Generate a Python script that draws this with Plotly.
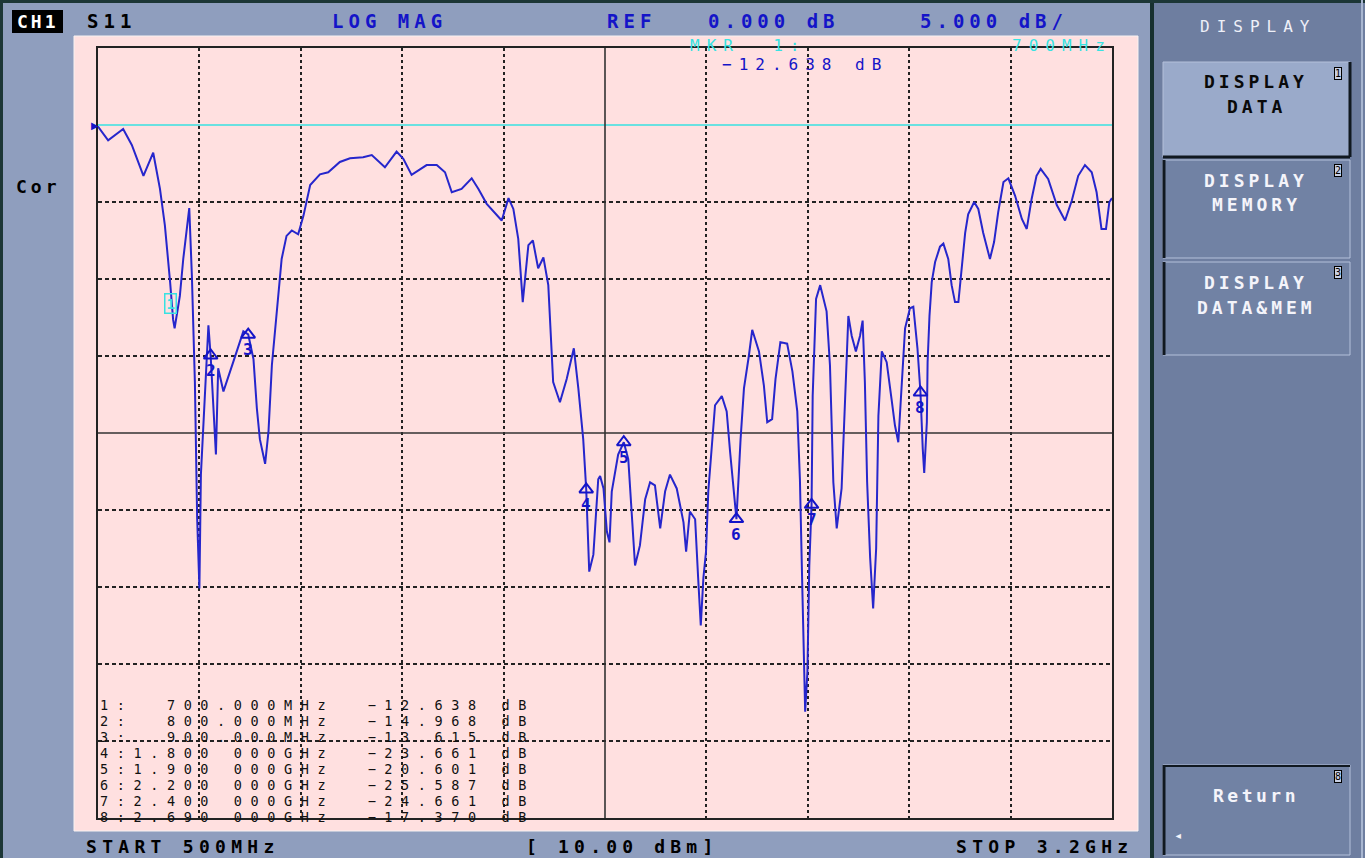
import plotly.graph_objects as go

W, H = 1365, 858

freq_mhz = [
    500, 527, 567, 590, 621, 647, 665, 678, 692, 700,
    704, 718, 727, 743, 750, 758, 764, 770, 774, 785,
    794, 800, 805, 809, 814, 820, 834, 860, 887, 900,
    914, 923, 931, 945, 954, 963, 976, 989, 1002, 1016,
    1033, 1047, 1065, 1091, 1113, 1144, 1171, 1206, 1229, 1264,
    1295, 1313, 1335, 1375, 1402, 1424, 1442, 1468, 1495, 1513,
    1535, 1575, 1593, 1606, 1619, 1631, 1646, 1658, 1672, 1686,
    1699, 1704, 1712, 1730, 1748, 1767, 1779, 1792, 1800, 1808,
    1819, 1832, 1837, 1846, 1855, 1862, 1868, 1885, 1900, 1912,
    1921, 1930, 1943, 1957, 1970, 1983, 1997, 2010, 2023, 2041,
    2059, 2066, 2076, 2090, 2098, 2105, 2112, 2119, 2125, 2134,
    2143, 2161, 2174, 2183, 2200, 2211, 2220, 2233, 2242, 2260,
    2273, 2282, 2295, 2304, 2317, 2335, 2349, 2362, 2369, 2376,
    2383, 2389, 2394, 2400, 2403, 2412, 2423, 2440, 2449, 2458,
    2467, 2480, 2489, 2498, 2507, 2518, 2529, 2536, 2542, 2548,
    2556, 2564, 2572, 2578, 2587, 2600, 2613, 2622, 2631, 2640,
    2649, 2662, 2671, 2682, 2690, 2696, 2700, 2707, 2709, 2714,
    2720, 2729, 2742, 2751, 2764, 2773, 2782, 2791, 2800, 2809,
    2817, 2833, 2844, 2857, 2875, 2886, 2897, 2911, 2924, 2942,
    2960, 2973, 2986, 2999, 3010, 3030, 3053, 3075, 3093, 3110,
    3128, 3146, 3159, 3172, 3184, 3193, 3200,
]
s11_db = [
    -0.1, -1.0, -0.26, -1.3, -3.3, -1.8, -4.15, -6.5, -10.2, -12.64,
    -13.2, -11.1, -8.7, -5.4, -9.8, -16.7, -25.5, -30.1, -22.7, -17.8,
    -13.0, -15.0, -17.3, -19.9, -21.4, -15.8, -17.3, -15.4, -13.4, -13.6,
    -15.2, -18.4, -20.4, -22.0, -19.9, -15.6, -11.9, -8.7, -7.2, -6.85,
    -7.1, -5.9, -3.9, -3.2, -3.07, -2.4, -2.16, -2.1, -1.95, -2.75,
    -1.73, -2.2, -3.24, -2.6, -2.6, -3.07, -4.37, -4.15, -3.46, -4.15,
    -5.12, -6.2, -4.75, -5.45, -7.4, -11.5, -7.8, -7.5, -9.3, -8.6,
    -10.4, -13.0, -16.7, -18.0, -16.5, -14.5, -17.1, -20.4, -23.66, -29.0,
    -27.9, -23.0, -22.8, -23.6, -26.4, -27.1, -23.8, -21.4, -20.6, -21.7,
    -25.1, -28.6, -27.3, -24.3, -23.2, -23.4, -26.2, -23.8, -22.7, -23.6,
    -25.8, -27.7, -25.1, -25.6, -29.4, -32.5, -29.4, -27.7, -23.8, -20.8,
    -18.2, -17.6, -18.6, -21.2, -25.59, -20.4, -17.1, -15.0, -13.3, -14.7,
    -16.9, -19.3, -19.1, -16.5, -14.1, -14.2, -16.0, -18.6, -23.0, -30.7,
    -38.1, -35.5, -28.6, -24.66, -17.6, -11.3, -10.4, -12.1, -15.6, -23.2,
    -26.2, -23.6, -17.6, -12.4, -13.7, -14.7, -13.7, -12.7, -16.7, -23.2,
    -28.1, -31.4, -27.5, -18.9, -14.7, -15.4, -17.8, -19.5, -20.6, -17.1,
    -13.2, -11.9, -11.8, -14.5, -17.37, -21.0, -22.6, -19.3, -15.4, -12.4,
    -10.2, -8.9, -7.9, -7.7, -8.7, -10.4, -11.5, -11.5, -9.1, -7.0,
    -5.8, -5.0, -5.45, -7.0, -8.7, -7.6, -5.66, -3.7, -3.46, -4.6,
    -6.1, -6.75, -4.8, -3.3, -2.85, -3.5, -5.2, -6.2, -4.9, -3.3,
    -2.6, -3.07, -4.37, -6.75, -6.75, -5.0, -4.75,
]

marker_ids = ["1", "2", "3", "4", "5", "6", "7", "8"]
marker_freq_mhz = [700, 800, 900, 1800, 1900, 2200, 2400, 2690]
marker_db = [-12.638, -14.968, -13.615, -23.661, -20.601, -25.587, -24.661, -17.370]
marker_freq_labels = ["700.000MHz", "800.000MHz", "900.000MHz", "1.800 000GHz",
                      "1.900 000GHz", "2.200 000GHz", "2.400 000GHz", "2.690 000GHz"]

start_mhz, stop_mhz = 500, 3200
ref_db, scale_db = 0.0, 5.0
y_bottom, y_top = -45, 5

header_texts = ["S11", "LOG MAG", "REF", "0.000 dB", "5.000 dB/"]
softkeys = [("DISPLAY", "DATA"), ("DISPLAY", "MEMORY"), ("DISPLAY", "DATA&MEM")]

MONO = "DejaVu Sans Mono"
BLUE = "#1414C8"
TRACE = "#2626CC"
CYAN = "#38E2E2"

shapes, anns = [], []


def px(x):
    return x / W


def py(y):
    return 1 - y / H


def R(x0, y0, x1, y1, fill, lc=None, lw=0, layer="below"):
    shapes.append(dict(type="rect", xref="paper", yref="paper",
                       x0=px(x0), x1=px(x1), y0=py(y1), y1=py(y0),
                       fillcolor=fill, line=dict(color=lc or fill, width=lw),
                       layer=layer))


def L(x0, y0, x1, y1, color, w, layer="below"):
    shapes.append(dict(type="line", xref="paper", yref="paper",
                       x0=px(x0), x1=px(x1), y0=py(y0), y1=py(y1),
                       line=dict(color=color, width=w), layer=layer))


def T(x, y, s, size=17, color="black", bold=False, ls=0, xanchor="left", **kw):
    s = s.replace(" ", "\u00a0")
    if ls:
        s = f'<span style="letter-spacing:{ls}px">{s}</span>'
    d = dict(x=px(x), y=py(y), xref="paper", yref="paper", text=s, showarrow=False,
             xanchor=xanchor, yanchor="middle",
             font=dict(family=MONO, size=size, color=color,
                       weight="bold" if bold else "normal"))
    d.update(kw)
    anns.append(d)


# ---------------- instrument frame ----------------
R(1152, 0, W, H, "#6E7EA0")
L(1152, 0, 1152, H, "#17302F", 4)
L(0, 1.5, W, 1.5, "#1C3636", 3)
L(1.5, 0, 1.5, H, "#1C3636", 3)
L(1362, 0, 1362, H, "#A8B6D0", 2)
R(74, 36, 1138, 831, "#FFE0E0", "#F8F2F2", 1)

# header
R(12, 10, 63, 33, "#000000")
T(37.5, 21, "CH1", size=18, color="white", bold=True, ls=3, xanchor="center")
xs_head = [85, 330, 605, 706, 918]
for i, s in enumerate(header_texts):
    T(xs_head[i], 21, s, size=19, color="black" if i == 0 else BLUE, bold=True, ls=5)

T(14, 186, "Cor", size=18, bold=True, ls=4)

# marker readout at top
T(688, 45, "MKR  1:", size=16, color=CYAN, ls=7)
T(1010, 45, f"{marker_freq_mhz[0]}MHz", size=16, color=CYAN, ls=7)
T(720, 64, f"\u2212{abs(marker_db[0]):.3f} dB", size=16, color=BLUE, ls=7)

# marker table
for i, mid in enumerate(marker_ids):
    line = f"{mid}:{marker_freq_labels[i].rjust(12)}  \u2212{abs(marker_db[i]):.3f} dB"
    T(99, 705 + i * 16, line, size=13.5, color="#111111", ls=8.6,
      height=14, borderpad=0)

# bottom bar
T(84, 846, f"START {start_mhz}MHz", size=18, bold=True, ls=5.3)
T(524, 846, "[ 10.00 dBm]", size=18, bold=True, ls=5.2)
T(954, 846, f"STOP {stop_mhz / 1000:.1f}GHz", size=18, bold=True, ls=5.3)

# softkey panel
T(1258, 27, "DISPLAY", size=16, color="#EEF0F8", ls=7, xanchor="center")
btn_y = [(62, 157), (160, 258), (262, 355)]
for k, ((a, b), (y0, y1)) in enumerate(zip(softkeys, btn_y)):
    sel = k == 0
    R(1163, y0, 1350, y1, "#9AAACA" if sel else "#7182A4", "#B4C0DA", 1)
    if sel:
        L(1350, y0, 1350, y1, "#101820", 3)
        L(1163, y1, 1350, y1, "#101820", 3)
    else:
        L(1164, y0, 1164, y1, "#101820", 3)
    col = "#0A0A0A" if sel else "#F4F4FA"
    T(1256, y0 + 20, a, size=18, color=col, bold=True, ls=4, xanchor="center")
    T(1256, y0 + 45, b, size=18, color=col, bold=True, ls=4, xanchor="center")
    T(1338, y0 + 11, str(k + 1), size=10, color="black", xanchor="center",
      bgcolor="#C8D0E4", bordercolor="black", borderwidth=1, borderpad=0)
R(1163, 765, 1350, 855, "#7182A4", "#B4C0DA", 1)
L(1164, 765, 1164, 855, "#101820", 3)
L(1163, 766, 1350, 766, "#101820", 2)
T(1256, 795, "Return", size=18, color="#F4F4FA", bold=True, ls=3.5, xanchor="center")
T(1338, 776, "8", size=10, color="black", xanchor="center",
  bgcolor="#C8D0E4", bordercolor="black", borderwidth=1, borderpad=0)
T(1178, 835, "\u25c2", size=14, color="#F4F4FA", xanchor="center")

# ---------------- plot ----------------
fig = go.Figure()

fig.add_trace(go.Scatter(x=freq_mhz, y=s11_db, mode="lines",
                         line=dict(color=TRACE, width=2), hoverinfo="skip",
                         showlegend=False))

# markers 2..8
fig.add_trace(go.Scatter(x=marker_freq_mhz[1:], y=marker_db[1:], mode="markers",
                         marker=dict(symbol="triangle-up-open", size=12,
                                     color=BLUE, line=dict(color=BLUE, width=2)),
                         showlegend=False, hoverinfo="skip"))
for i in range(1, len(marker_ids)):
    anns.append(dict(x=marker_freq_mhz[i], y=marker_db[i], xref="x", yref="y",
                     text=marker_ids[i], showarrow=False, yshift=-15,
                     font=dict(family=MONO, size=16, color=BLUE, weight="bold")))
# active marker 1
anns.append(dict(x=marker_freq_mhz[0], y=marker_db[0], xref="x", yref="y",
                 text=marker_ids[0], showarrow=False, yshift=16, xshift=-3,
                 font=dict(family=MONO, size=14, color=CYAN, weight="bold"),
                 bordercolor=CYAN, borderwidth=1.5, borderpad=1))

# graticule: centre lines solid, reference line cyan, others dotted/dashed
mid_f = (start_mhz + stop_mhz) / 2
mid_db = (y_bottom + y_top) / 2
div_f = (stop_mhz - start_mhz) / 10
x_grid = [start_mhz + k * div_f for k in range(1, 10) if k != 5]
y_grid = [y_bottom + k * scale_db for k in range(1, 10)
          if y_bottom + k * scale_db not in (mid_db, ref_db)]

shapes.append(dict(type="line", xref="x", yref="y", x0=start_mhz, x1=stop_mhz,
                   y0=ref_db, y1=ref_db, line=dict(color=CYAN, width=1.6),
                   layer="between"))
anns.append(dict(x=start_mhz, y=ref_db, xref="x", yref="y", text="\u25b6",
                 showarrow=False, xanchor="right", xshift=3,
                 font=dict(size=10, color=BLUE)))
shapes.append(dict(type="line", xref="x", yref="y", x0=mid_f, x1=mid_f,
                   y0=y_bottom, y1=y_top, line=dict(color="#333333", width=1.6),
                   layer="between"))
shapes.append(dict(type="line", xref="x", yref="y", x0=start_mhz, x1=stop_mhz,
                   y0=mid_db, y1=mid_db, line=dict(color="#333333", width=1.6),
                   layer="between"))

fig.update_layout(
    width=W, height=H,
    margin=dict(l=0, r=0, t=0, b=0, pad=0),
    paper_bgcolor="#8F9EBE",
    plot_bgcolor="rgba(0,0,0,0)",
    shapes=shapes, annotations=anns,
    xaxis=dict(domain=[98 / W, 1112 / W], range=[start_mhz, stop_mhz],
               tickmode="array", tickvals=x_grid,
               showgrid=True, gridcolor="#222222", gridwidth=2, griddash="dot",
               showline=True, mirror=True, linecolor="#222222", linewidth=2,
               zeroline=False, showticklabels=False, ticks="", fixedrange=True),
    yaxis=dict(domain=[1 - 818 / H, 1 - 48 / H], range=[y_bottom, y_top],
               tickmode="array", tickvals=y_grid,
               showgrid=True, gridcolor="#222222", gridwidth=1.5,
               griddash="4px,3px",
               showline=True, mirror=True, linecolor="#222222", linewidth=2,
               zeroline=False, showticklabels=False, ticks="", fixedrange=True),
)

fig.write_html("out.html",
               config={"displayModeBar": False},
               post_script="document.body.style.margin='0px';"
                           "document.body.style.overflow='hidden';")
